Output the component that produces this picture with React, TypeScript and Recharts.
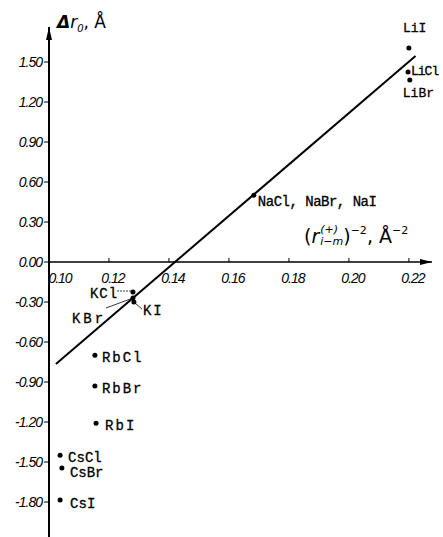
import { ScatterChart, XAxis, YAxis, Scatter, ReferenceLine, ReferenceDot } from "recharts"

// salts, x = (r_i-m^(+))^-2 in Å^-2, y = Δr0 in Å
const salts = ["LiI", "LiCl", "LiBr", "NaCl, NaBr, NaI", "KCl", "KBr", "KI", "RbCl", "RbBr", "RbI", "CsCl", "CsBr", "CsI"]
const invRadiusSq = [0.22, 0.2197, 0.2203, 0.1683, 0.128, 0.128, 0.1283, 0.1153, 0.1153, 0.1157, 0.1037, 0.1043, 0.1037]
const deltaR0 = [1.605, 1.425, 1.365, 0.5, -0.225, -0.27, -0.3, -0.7, -0.93, -1.21, -1.45, -1.545, -1.785]

// straight fit line ends
const fitX = [0.1023, 0.2222]
const fitY = [-0.765, 1.545]

const xTicks = [0.1, 0.12, 0.14, 0.16, 0.18, 0.2, 0.22]
const yTicks = [-1.8, -1.5, -1.2, -0.9, -0.6, -0.3, 0, 0.3, 0.6, 0.9, 1.2, 1.5]

const xDomain = [0.1, 0.2277]
const yDomain = [-2.0625, 1.7625]

const points = salts.map((name, i) => ({ name, x: invRadiusSq[i], y: deltaR0[i] }))
const fitLine = fitX.map((x, i) => ({ x, y: fitY[i] }))

// label offsets from the dot, plus leader lines for the crowded K salts
const labelPos: Record<string, { dx: number; dy: number; ls?: number; fs?: number; lead?: number[] }> = {
  LiI: { dx: -6, dy: -16, fs: 13 },
  LiCl: { dx: 3, dy: 3, fs: 13, ls: -1 },
  LiBr: { dx: -7, dy: 17, fs: 13 },
  "NaCl, NaBr, NaI": { dx: 4, dy: 11, ls: -0.5 },
  KCl: { dx: -43, dy: 6, ls: 1, lead: [-16, -1, -2, -1] },
  KBr: { dx: -61, dy: 25, ls: 3, lead: [-27, 10, 0, 0] },
  KI: { dx: 9, dy: 13, ls: 2, lead: [0, 0, 8, 7] },
  RbCl: { dx: 7, dy: 7, ls: 2 },
  RbBr: { dx: 7, dy: 7, ls: 2 },
  RbI: { dx: 9, dy: 7, ls: 2 },
  CsCl: { dx: 8, dy: 7 },
  CsBr: { dx: 8, dy: 9 },
  CsI: { dx: 10, dy: 8 },
}

const tickFont = "'Liberation Sans', Arial, sans-serif"
const labelFont = "'Liberation Mono', 'DejaVu Sans Mono', monospace"

function SaltDot(props: any) {
  const { cx, cy, payload } = props
  const p = labelPos[payload.name] || { dx: 5, dy: 5 }
  return (
    <g>
      <circle cx={cx} cy={cy} r={2.5} fill="#000" />
      {p.lead && (
        <line
          x1={cx + p.lead[0]}
          y1={cy + p.lead[1]}
          x2={cx + p.lead[2]}
          y2={cy + p.lead[3]}
          stroke="#000"
          strokeWidth={0.8}
          strokeDasharray={payload.name === "KCl" ? "2 1" : undefined}
        />
      )}
      <text
        x={cx + p.dx}
        y={cy + p.dy}
        fontFamily={labelFont}
        fontSize={p.fs || 14}
        letterSpacing={p.ls || 0}
        stroke="#000"
        strokeWidth={0.3}
        fill="#000"
      >
        {payload.name}
      </text>
    </g>
  )
}

function YTick(props: any) {
  const { x, y, payload } = props
  return (
    <text x={x} y={y} dy={5} textAnchor="end" fontFamily={tickFont} style={{ fontStyle: "italic" }} fontSize={14} letterSpacing={-1} fill="#000">
      {payload.value.toFixed(2)}
    </text>
  )
}

function xTickShape(value: number) {
  return (props: any) => {
    const { cx, cy } = props
    const lx = value === xTicks[0] ? cx + 11 : cx + 4
    return (
      <g>
        <line x1={cx} y1={cy} x2={cx} y2={cy - 4} stroke="#000" strokeWidth={1} />
        <text x={lx} y={cy + 21} textAnchor="middle" fontFamily={tickFont} style={{ fontStyle: "italic" }} fontSize={14} letterSpacing={-1} fill="#000">
          {value.toFixed(2)}
        </text>
      </g>
    )
  }
}

const arrowRight = (props: any) => (
  <path d={`M${props.cx},${props.cy} L${props.cx - 12},${props.cy - 3} L${props.cx - 12},${props.cy + 3} Z`} fill="#000" />
)
const arrowUp = (props: any) => (
  <path d={`M${props.cx},${props.cy} L${props.cx - 3},${props.cy + 13} L${props.cx + 3},${props.cy + 13} Z`} fill="#000" />
)

export default function App() {
  return (
    <div style={{ position: "absolute", left: 0, top: 0, width: 443, height: 537, background: "#fff" }}>
      <ScatterChart width={443} height={537} margin={{ top: 27, right: 11, bottom: 0, left: 0 }}>
        <XAxis type="number" dataKey="x" domain={xDomain} hide />
        <YAxis
          type="number"
          dataKey="y"
          domain={yDomain}
          ticks={yTicks}
          width={49}
          axisLine={{ stroke: "#000", strokeWidth: 2 }}
          tickLine={{ stroke: "#000" }}
          tickSize={5}
          tick={<YTick />}
          interval={0}
        />
        <ReferenceLine y={0} stroke="#000" strokeWidth={1.5} />
        {xTicks.map((t) => (
          <ReferenceDot key={t} x={t} y={0} ifOverflow="visible" shape={xTickShape(t)} />
        ))}
        <ReferenceDot x={xDomain[1]} y={0} ifOverflow="visible" shape={arrowRight} />
        <ReferenceDot x={xDomain[0]} y={yDomain[1]} ifOverflow="visible" shape={arrowUp} />
        <Scatter
          data={fitLine}
          line={{ stroke: "#000", strokeWidth: 2 }}
          shape={() => <g />}
          isAnimationActive={false}
        />
        <Scatter data={points} shape={<SaltDot />} isAnimationActive={false} />
      </ScatterChart>
      <div
        style={{
          position: "absolute",
          left: 57,
          top: 12,
          fontFamily: "'DejaVu Sans', sans-serif",
          fontSize: 17,
          whiteSpace: "nowrap",
        }}
      >
        <i style={{ fontWeight: "bold" }}>Δ</i>
        <i>r</i>
        <sub style={{ fontSize: 10, fontStyle: "italic" }}>0</sub>, Å
      </div>
      <div
        style={{
          position: "absolute",
          left: 304,
          top: 224,
          fontFamily: "'DejaVu Sans', sans-serif",
          fontSize: 19,
          whiteSpace: "nowrap",
          display: "flex",
          alignItems: "center",
        }}
      >
        <span>(</span>
        <i>r</i>
        <span style={{ display: "inline-flex", flexDirection: "column", fontSize: 11, lineHeight: "12px", marginLeft: 1 }}>
          <i>(+)</i>
          <i>i−m</i>
        </span>
        <span>)</span>
        <sup style={{ fontSize: 11, alignSelf: "flex-start" }}>−2</sup>
        <span>, Å</span>
        <sup style={{ fontSize: 11, alignSelf: "flex-start" }}>−2</sup>
      </div>
    </div>
  )
}
